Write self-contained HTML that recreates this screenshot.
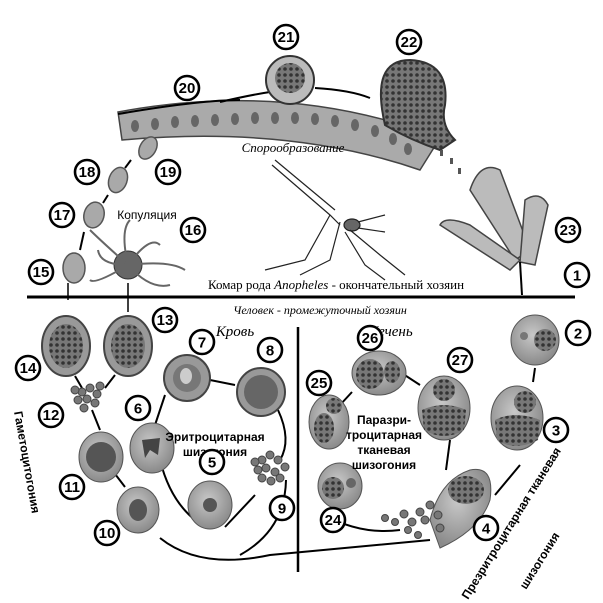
<!DOCTYPE html>
<html><head><meta charset="utf-8"><style>
html,body{margin:0;padding:0;background:#fff;width:603px;height:603px;overflow:hidden}
svg{display:block}
.n circle{fill:#fff;stroke:#000;stroke-width:2.6}
.n text{font-family:"Liberation Sans",sans-serif;font-weight:bold;font-size:15px;text-anchor:middle}
.cell{fill:#a9a9a9;stroke:#555;stroke-width:1.5}
.ln{fill:none;stroke:#000;stroke-width:2}
.serif{font-family:"Liberation Serif",serif;font-style:italic}
.sans{font-family:"Liberation Sans",sans-serif;font-weight:bold}
</style></head><body>
<svg width="603" height="603" viewBox="0 0 603 603">
<defs>
<radialGradient id="g" cx="45%" cy="40%" r="60%"><stop offset="0" stop-color="#c8c8c8"/><stop offset="1" stop-color="#8a8a8a"/></radialGradient>
<pattern id="dots" width="6" height="6" patternUnits="userSpaceOnUse"><rect width="6" height="6" fill="#777"/><circle cx="3" cy="3" r="1.8" fill="#333"/></pattern>
</defs>

<!-- gut wall -->
<path d="M118,112 Q290,80 440,138 L420,170 Q290,125 122,140 Z" fill="#aaa" stroke="#444" stroke-width="1.5"/>
<g fill="#666">
<ellipse cx="135" cy="126" rx="4" ry="6"/><ellipse cx="155" cy="124" rx="4" ry="6"/><ellipse cx="175" cy="122" rx="4" ry="6"/><ellipse cx="195" cy="121" rx="4" ry="6"/><ellipse cx="215" cy="120" rx="4" ry="6"/><ellipse cx="235" cy="119" rx="4" ry="6"/><ellipse cx="255" cy="118" rx="4" ry="6"/><ellipse cx="275" cy="118" rx="4" ry="6"/><ellipse cx="295" cy="118" rx="4" ry="6"/><ellipse cx="315" cy="119" rx="4" ry="6"/><ellipse cx="335" cy="121" rx="4" ry="6"/><ellipse cx="355" cy="125" rx="4" ry="6"/><ellipse cx="375" cy="131" rx="4" ry="6"/><ellipse cx="393" cy="139" rx="4" ry="6"/><ellipse cx="408" cy="149" rx="4" ry="6"/></g>
<path class="ln" d="M118,114 Q200,100 240,100"/>
<path class="ln" d="M220,102 Q250,95 270,92"/>
<path class="ln" d="M315,88 Q350,90 370,98"/>
<!-- bulbs -->
<circle cx="290" cy="80" r="24" fill="#bbb" stroke="#333" stroke-width="2"/>
<circle cx="290" cy="78" r="15" fill="url(#dots)"/>
<path d="M385,125 Q370,60 410,60 Q450,62 445,105 Q440,125 455,140 L440,150 Q410,140 385,125Z" fill="url(#dots)" stroke="#333" stroke-width="2"/>
<g fill="#555"><rect x="440" y="150" width="3" height="6"/><rect x="450" y="158" width="3" height="6"/><rect x="458" y="168" width="3" height="6"/></g>
<!-- organ 23 -->
<g fill="#bbb" stroke="#444" stroke-width="1.5">
<path d="M470,190 Q480,160 500,170 L530,250 L515,260 Z"/>
<path d="M525,200 Q540,190 548,205 L535,265 L520,262 Z"/>
<path d="M440,225 Q445,215 470,225 L520,260 L510,270 Z"/>
</g>
<path class="ln" d="M520,262 L522,295" stroke-width="1.5"/>
<!-- mosquito -->
<g stroke="#222" fill="none" stroke-width="1.2">
<path d="M272,165 L330,215 L340,225"/><path d="M275,160 L335,210"/>
<ellipse cx="352" cy="225" rx="8" ry="6" fill="#666"/>
<path d="M330,215 L305,260 L265,270"/><path d="M340,222 L330,260 L300,275"/><path d="M350,230 L380,255 L405,275"/><path d="M345,232 L365,265 L385,280"/>
<path d="M358,222 L385,215"/><path d="M358,228 L385,232"/>
</g>
<!-- copulation cells -->
<ellipse cx="148" cy="148" rx="8" ry="12" transform="rotate(30 148 148)" class="cell"/>
<ellipse cx="118" cy="180" rx="9" ry="13" transform="rotate(20 118 180)" class="cell"/>
<ellipse cx="94" cy="215" rx="10" ry="13" transform="rotate(15 94 215)" class="cell"/>
<ellipse cx="74" cy="268" rx="11" ry="15" class="cell"/>
<circle cx="128" cy="265" r="14" fill="#666" stroke="#333"/>
<g stroke="#666" stroke-width="2" fill="none">
<path d="M128,265 Q100,240 90,230"/><path d="M128,265 Q120,230 130,220"/><path d="M128,265 Q150,235 160,245"/><path d="M128,265 Q170,260 185,270"/><path d="M128,265 Q150,290 170,285"/><path d="M128,265 Q95,285 90,280"/><path d="M128,265 Q100,265 98,250"/></g>
<g class="ln"><path d="M131,160 L125,168"/><path d="M108,195 L103,203"/><path d="M84,232 L80,250"/></g>

<!-- main lines -->
<line x1="27" y1="297" x2="575" y2="297" stroke="#000" stroke-width="3"/>
<line x1="298" y1="327" x2="298" y2="572" stroke="#000" stroke-width="2.5"/>
<line x1="68" y1="283" x2="68" y2="300" stroke="#000" stroke-width="1.5"/>
<line x1="128" y1="283" x2="128" y2="312" stroke="#000" stroke-width="1.5"/>

<!-- connectors -->
<g class="ln">
<path d="M75,376 L82,388"/><path d="M115,375 L105,388"/>
<path d="M92,410 L100,430"/><path d="M112,470 L125,487"/>
<path d="M160,538 Q200,570 270,555 Q380,545 430,540"/>
<path d="M286,480 Q285,530 240,555"/>
<path d="M210,380 L235,385"/>
<path d="M278,410 Q292,440 280,460"/>
<path d="M225,527 L255,495"/>
<path d="M160,460 Q170,500 195,520"/>
<path d="M165,395 L155,425"/>
<path d="M535,368 L533,382"/>
<path d="M520,465 L495,495"/>
<path d="M325,515 Q360,535 400,530"/>
<path d="M330,470 L333,490"/>
<path d="M340,405 L352,392"/>
<path d="M400,372 L420,385"/>
<path d="M450,440 L446,470"/>
</g>

<!-- blood cells -->
<ellipse cx="66" cy="346" rx="24" ry="30" fill="#999" stroke="#444" stroke-width="2"/><ellipse cx="66" cy="346" rx="17" ry="22" fill="url(#dots)"/>
<ellipse cx="128" cy="346" rx="24" ry="30" fill="#999" stroke="#444" stroke-width="2"/><ellipse cx="128" cy="346" rx="17" ry="22" fill="url(#dots)"/>
<circle cx="187" cy="378" r="23" fill="#999" stroke="#444" stroke-width="2"/><circle cx="187" cy="378" r="14" fill="#777"/><ellipse cx="186" cy="376" rx="6" ry="8" fill="#ccc"/>
<circle cx="261" cy="392" r="24" fill="#999" stroke="#444" stroke-width="2"/><circle cx="261" cy="392" r="17" fill="#666"/>
<ellipse cx="152" cy="448" rx="22" ry="25" fill="url(#g)" stroke="#555"/><path d="M142,440 L160,438 L158,455 L150,450 L145,458Z" fill="#444"/>
<ellipse cx="101" cy="457" rx="22" ry="25" fill="url(#g)" stroke="#555"/><circle cx="101" cy="457" r="15" fill="#555"/>
<ellipse cx="138" cy="510" rx="21" ry="23" fill="url(#g)" stroke="#555"/><ellipse cx="138" cy="510" rx="9" ry="11" fill="#555"/>
<ellipse cx="210" cy="505" rx="22" ry="24" fill="url(#g)" stroke="#555"/><circle cx="210" cy="505" r="7" fill="#555"/>
<g fill="#777" stroke="#444">
<circle cx="82" cy="392" r="4"/><circle cx="90" cy="388" r="4"/><circle cx="97" cy="394" r="4"/><circle cx="78" cy="400" r="4"/><circle cx="87" cy="399" r="4"/><circle cx="95" cy="403" r="4"/><circle cx="84" cy="408" r="4"/><circle cx="100" cy="386" r="4"/><circle cx="75" cy="390" r="4"/>
<circle cx="262" cy="460" r="4"/><circle cx="270" cy="455" r="4"/><circle cx="278" cy="460" r="4"/><circle cx="285" cy="467" r="4"/><circle cx="258" cy="470" r="4"/><circle cx="266" cy="468" r="4"/><circle cx="275" cy="472" r="4"/><circle cx="262" cy="478" r="4"/><circle cx="271" cy="481" r="4"/><circle cx="280" cy="478" r="4"/><circle cx="255" cy="462" r="4"/>
</g>
<!-- liver cells -->
<ellipse cx="535" cy="340" rx="24" ry="25" fill="url(#g)" stroke="#555"/><circle cx="545" cy="340" r="11" fill="url(#dots)"/><circle cx="524" cy="336" r="4" fill="#777"/>
<ellipse cx="517" cy="418" rx="26" ry="32" fill="url(#g)" stroke="#555"/><circle cx="525" cy="402" r="11" fill="url(#dots)"/><path d="M495,420 Q515,410 540,420 L538,440 Q515,452 497,440Z" fill="url(#dots)"/>
<ellipse cx="444" cy="408" rx="26" ry="32" fill="url(#g)" stroke="#555"/><circle cx="444" cy="390" r="11" fill="url(#dots)"/><path d="M422,410 Q444,400 466,410 L464,430 Q444,442 424,430Z" fill="url(#dots)"/>
<ellipse cx="379" cy="373" rx="27" ry="22" fill="url(#g)" stroke="#555"/><ellipse cx="370" cy="374" rx="14" ry="15" fill="url(#dots)"/><ellipse cx="392" cy="372" rx="8" ry="11" fill="url(#dots)"/>
<ellipse cx="329" cy="422" rx="20" ry="27" fill="url(#g)" stroke="#555"/><ellipse cx="324" cy="428" rx="10" ry="15" fill="url(#dots)"/><circle cx="334" cy="406" r="8" fill="url(#dots)"/>
<ellipse cx="340" cy="486" rx="22" ry="23" fill="url(#g)" stroke="#555"/><circle cx="333" cy="488" r="11" fill="url(#dots)"/><circle cx="351" cy="483" r="5" fill="#666"/>
<path d="M430,520 Q440,480 470,470 Q495,465 490,500 Q480,530 440,548 Z" fill="url(#g)" stroke="#555"/><ellipse cx="466" cy="490" rx="18" ry="14" fill="url(#dots)"/>
<g fill="#777" stroke="#444"><circle cx="420" cy="512" r="4"/><circle cx="430" cy="505" r="4"/><circle cx="412" cy="522" r="4"/><circle cx="425" cy="520" r="4"/><circle cx="404" cy="514" r="4"/><circle cx="395" cy="522" r="3.5"/><circle cx="385" cy="518" r="3.5"/><circle cx="408" cy="530" r="3.5"/><circle cx="418" cy="535" r="3.5"/><circle cx="438" cy="515" r="4"/><circle cx="440" cy="528" r="4"/></g>

<!-- labels -->
<text x="293" y="152" class="serif" font-size="13" text-anchor="middle">Спорообразование</text>
<text x="147" y="219" font-family="Liberation Sans, sans-serif" font-size="12" text-anchor="middle">Копуляция</text>
<text x="336" y="289" class="serif" font-size="13" text-anchor="middle" style="font-style:normal">Комар рода <tspan font-style="italic">Anopheles</tspan> - окончательный хозяин</text>
<text x="320" y="314" class="serif" font-size="12" text-anchor="middle">Человек - промежуточный хозяин</text>
<text x="235" y="336" class="serif" font-size="15" text-anchor="middle">Кровь</text>
<text x="390" y="336" class="serif" font-size="15" text-anchor="middle">Печень</text>
<text x="215" y="441" class="sans" font-size="12" text-anchor="middle">Эритроцитарная</text>
<text x="215" y="456" class="sans" font-size="12" text-anchor="middle">шизогония</text>
<text x="384" y="424" class="sans" font-size="12" text-anchor="middle">Паразри-</text>
<text x="384" y="439" class="sans" font-size="12" text-anchor="middle">троцитарная</text>
<text x="384" y="454" class="sans" font-size="12" text-anchor="middle">тканевая</text>
<text x="384" y="469" class="sans" font-size="12" text-anchor="middle">шизогония</text>
<text transform="translate(14,412) rotate(80)" class="sans" font-size="12">Гаметоцитогония</text>
<text transform="translate(468,600) rotate(-58)" class="sans" font-size="12">Презритроцитарная  тканевая</text>
<text transform="translate(526,590) rotate(-58)" class="sans" font-size="12">шизогония</text>

<!-- numbers -->
<g class="n">
<g transform="translate(577,275)"><circle r="12"/><text y="5.5">1</text></g>
<g transform="translate(578,333)"><circle r="12"/><text y="5.5">2</text></g>
<g transform="translate(556,430)"><circle r="12"/><text y="5.5">3</text></g>
<g transform="translate(486,528)"><circle r="12"/><text y="5.5">4</text></g>
<g transform="translate(212,462)"><circle r="12"/><text y="5.5">5</text></g>
<g transform="translate(138,408)"><circle r="12"/><text y="5.5">6</text></g>
<g transform="translate(202,342)"><circle r="12"/><text y="5.5">7</text></g>
<g transform="translate(270,350)"><circle r="12"/><text y="5.5">8</text></g>
<g transform="translate(282,508)"><circle r="12"/><text y="5.5">9</text></g>
<g transform="translate(107,533)"><circle r="12"/><text y="5" font-size="13">10</text></g>
<g transform="translate(72,487)"><circle r="12"/><text y="5" font-size="13">11</text></g>
<g transform="translate(51,415)"><circle r="12"/><text y="5" font-size="13">12</text></g>
<g transform="translate(165,320)"><circle r="12"/><text y="5" font-size="13">13</text></g>
<g transform="translate(28,368)"><circle r="12"/><text y="5" font-size="13">14</text></g>
<g transform="translate(41,272)"><circle r="12"/><text y="5" font-size="13">15</text></g>
<g transform="translate(193,230)"><circle r="12"/><text y="5" font-size="13">16</text></g>
<g transform="translate(62,215)"><circle r="12"/><text y="5" font-size="13">17</text></g>
<g transform="translate(87,172)"><circle r="12"/><text y="5" font-size="13">18</text></g>
<g transform="translate(168,172)"><circle r="12"/><text y="5" font-size="13">19</text></g>
<g transform="translate(187,88)"><circle r="12"/><text y="5" font-size="13">20</text></g>
<g transform="translate(286,37)"><circle r="12"/><text y="5" font-size="13">21</text></g>
<g transform="translate(409,42)"><circle r="12"/><text y="5" font-size="13">22</text></g>
<g transform="translate(568,230)"><circle r="12"/><text y="5" font-size="13">23</text></g>
<g transform="translate(333,520)"><circle r="12"/><text y="5" font-size="13">24</text></g>
<g transform="translate(319,383)"><circle r="12"/><text y="5" font-size="13">25</text></g>
<g transform="translate(370,338)"><circle r="12"/><text y="5" font-size="13">26</text></g>
<g transform="translate(460,360)"><circle r="12"/><text y="5" font-size="13">27</text></g>
</g>
</svg>
</body></html>
